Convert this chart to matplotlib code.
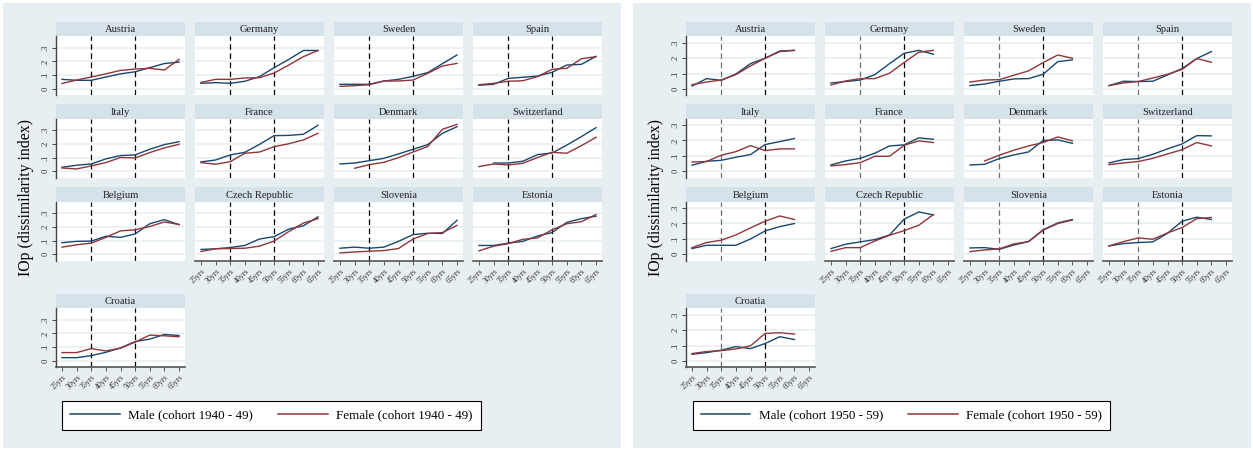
import numpy as np
import matplotlib
matplotlib.use("Agg")
import matplotlib.pyplot as plt
from matplotlib.patches import Rectangle
from matplotlib.lines import Line2D

plt.rcParams['font.family'] = ['Liberation Serif', 'DejaVu Serif']

countries = ["Austria", "Germany", "Sweden", "Spain",
             "Italy", "France", "Denmark", "Switzerland",
             "Belgium", "Czech Republic", "Slovenia", "Estonia",
             "Croatia"]
ages = [25, 30, 35, 40, 45, 50, 55, 60, 65]
age_labels = ["25yrs", "30yrs", "35yrs", "40yrs", "45yrs", "50yrs", "55yrs", "60yrs", "65yrs"]
y_ticks = [0, 0.1, 0.2, 0.3]
y_tick_labels = ["0", ".1", ".2", ".3"]

# cohort 1940-49, one row per country (same order as countries)
male_1940 = [
    [.070, .063, .063, .087, .110, .125, .155, .185, .195],
    [.041, .046, .041, .056, .090, .155, .215, .280, .280],
    [.034, .034, .034, .058, .070, .092, .119, .184, .247],
    [.027, .034, .077, .085, .094, .121, .174, .179, .237],
    [.029, .044, .053, .090, .114, .119, .160, .194, .215],
    [.068, .082, .119, .138, .196, .259, .261, .269, .334],
    [.053, .060, .077, .094, .126, .160, .194, .276, .324],
    [None, .060, .060, .073, .121, .133, .190, .252, .317],
    [.084, .094, .096, .131, .123, .148, .222, .252, .215],
    [.035, .040, .049, .064, .111, .128, .183, .207, .272],
    [.044, .052, .044, .052, .094, .143, .153, .151, .247],
    [.064, .064, .081, .094, .133, .158, .232, .259, .277],
    [.024, .024, .039, .063, .095, .141, .159, .193, .185],
]
female_1940 = [
    [.040, .065, .087, .110, .135, .145, .150, .138, .215],
    [.048, .070, .070, .080, .082, .116, .174, .235, .280],
    [.019, .024, .031, .058, .058, .065, .114, .167, .186],
    [.031, .041, .056, .060, .090, .143, .150, .220, .235],
    [.024, .017, .039, .063, .100, .097, .136, .170, .196],
    [.063, .051, .070, .131, .140, .179, .200, .228, .276],
    [None, .022, .048, .065, .099, .140, .180, .305, .341],
    [.034, .053, .046, .058, .100, .138, .131, .186, .247],
    [.052, .069, .081, .123, .170, .178, .202, .235, .217],
    [.020, .040, .042, .044, .059, .096, .165, .227, .259],
    [.010, .017, .022, .027, .042, .111, .151, .158, .210],
    [.025, .059, .077, .109, .119, .178, .222, .237, .289],
    [.061, .061, .090, .073, .093, .137, .188, .183, .176],
]

# cohort 1950-59, observed up to age 60
male_1950 = [
    [.019, .067, .056, .097, .164, .199, .242, .250],
    [.039, .048, .058, .093, .164, .231, .250, .225],
    [.022, .032, .050, .065, .067, .095, .177, .188],
    [.022, .050, .048, .050, .091, .132, .197, .242],
    [.039, .065, .071, .091, .108, .173, .192, .212],
    [.041, .067, .084, .117, .164, .171, .216, .207],
    [.041, .045, .082, .106, .125, .199, .203, .181],
    [.054, .076, .082, .110, .145, .177, .231, .229],
    [.037, .058, .058, .058, .099, .151, .179, .199],
    [.037, .065, .080, .095, .125, .227, .274, .255],
    [.041, .043, .032, .060, .082, .158, .203, .225],
    [.054, .069, .076, .080, .136, .214, .240, .225],
    [.043, .054, .070, .093, .080, .113, .157, .139],
]
female_1950 = [
    [.028, .045, .058, .093, .149, .199, .246, .250],
    [.026, .052, .067, .067, .102, .171, .238, .250],
    [.045, .058, .060, .089, .117, .171, .220, .199],
    [.022, .039, .048, .071, .095, .127, .197, .173],
    [.060, .063, .104, .127, .166, .134, .145, .145],
    [.035, .043, .056, .097, .097, .168, .197, .186],
    [None, .067, .104, .136, .164, .186, .222, .197],
    [.043, .054, .063, .084, .112, .140, .186, .164],
    [.043, .076, .091, .125, .171, .214, .248, .225],
    [.019, .043, .043, .086, .123, .153, .188, .257],
    [.017, .028, .035, .067, .082, .156, .199, .222],
    [.054, .082, .106, .097, .138, .173, .231, .238],
    [.048, .061, .067, .078, .098, .178, .183, .174],
]

W, H = 1253, 451
BG = "#e8eff2"
STRIP = "#d5e2e9"
GRID = "#e9f1f3"
NAVY = "#1a476f"
MAROON = "#90353b"

col_x = [56, 195, 334, 473]
col_w = 129
strip_top = [22, 104.3, 187.3, 294]
strip_h = 14.3
plot_h = 59


def fig_box(x0, y0, w, h):
    return [x0 / W, 1 - (y0 + h) / H, w / W, h / H]


def to_arr(vals):
    return np.array([np.nan if v is None else v for v in vals], dtype=float)


def draw_cohort(fig, x_off, male, female, ylim, cohort, first_line_color):
    # light panel background behind the whole small-multiple block
    fig.add_artist(Rectangle(((x_off + 3) / W, 3 / H), 618 / W, 445 / H,
                             transform=fig.transFigure,
                             facecolor=BG, edgecolor="none", zorder=0))
    n = len(countries)
    for i, name in enumerate(countries):
        r, c = divmod(i, 4)
        x0 = x_off + col_x[c]
        y0 = strip_top[r]

        sax = fig.add_axes(fig_box(x0, y0, col_w, strip_h))
        sax.set_facecolor(STRIP)
        sax.set_xticks([])
        sax.set_yticks([])
        for s in sax.spines.values():
            s.set_visible(False)
        sax.text(0.5, 0.45, name, ha="center", va="center", fontsize=7.6,
                 color="#222222", transform=sax.transAxes)

        ax = fig.add_axes(fig_box(x0, y0 + strip_h, col_w, plot_h))
        ax.set_facecolor("white")
        ax.set_xlim(22.95, 67.05)
        ax.set_ylim(*ylim)
        for yv in y_ticks:
            ax.axhline(yv, color=GRID, lw=1.3, zorder=1)
        ax.axvline(35, color=first_line_color, lw=0.9, ls=(0, (4.5, 2.8)), zorder=2)
        ax.axvline(50, color="black", lw=0.9, ls=(0, (4.5, 2.8)), zorder=2)

        m = to_arr(male[i])
        f = to_arr(female[i])
        ax.plot(ages[:len(m)], m, color=NAVY, lw=1.0, zorder=3)
        ax.plot(ages[:len(f)], f, color=MAROON, lw=1.0, zorder=3)

        for s in ["top", "right"]:
            ax.spines[s].set_visible(False)

        if c == 0:
            ax.spines["left"].set_color("#444444")
            ax.spines["left"].set_linewidth(1.0)
            ax.set_yticks(y_ticks)
            ax.set_yticklabels(y_tick_labels, rotation=90, va="center",
                               fontsize=6.2, color="#333333")
            ax.tick_params(axis="y", length=3, width=0.7, color="#444444", pad=1.5)
        else:
            ax.spines["left"].set_visible(False)
            ax.set_yticks([])

        if i + 4 >= n:
            ax.spines["bottom"].set_color("#555555")
            ax.spines["bottom"].set_linewidth(1.2)
            ax.set_xticks(ages)
            ax.set_xticklabels(age_labels, rotation=45, ha="right",
                               rotation_mode="anchor", fontsize=5.5, color="#333333")
            ax.tick_params(axis="x", length=3, width=0.7, color="#555555", pad=1.5)
        else:
            ax.spines["bottom"].set_visible(False)
            ax.set_xticks([])

    fig.text((x_off + 26) / W, 1 - 197 / H, "IOp (dissimilarity index)",
             rotation=90, ha="center", va="center", fontsize=11.3)

    handles = [Line2D([], [], color=NAVY, lw=1.1),
               Line2D([], [], color=MAROON, lw=1.1)]
    labels = [f"Male (cohort {cohort})", f"Female (cohort {cohort})"]
    leg = fig.legend(handles, labels, loc="center",
                     bbox_to_anchor=((x_off + 271.5) / W, 1 - 415.5 / H),
                     ncol=2, fontsize=9.4, frameon=True, fancybox=False,
                     edgecolor="black", facecolor="white", framealpha=1,
                     handlelength=3.8, handletextpad=0.65, columnspacing=1.9,
                     borderpad=0.62)
    leg.get_frame().set_linewidth(0.8)


fig = plt.figure(figsize=(W / 100, H / 100), dpi=100)
fig.patch.set_facecolor("white")

draw_cohort(fig, 0, male_1940, female_1940, (-0.046, 0.383), "1940 - 49", "black")
draw_cohort(fig, 630, male_1950, female_1950, (-0.041, 0.341), "1950 - 59", "#6e6e6e")

fig.savefig("out.png", dpi=100, facecolor="white")
